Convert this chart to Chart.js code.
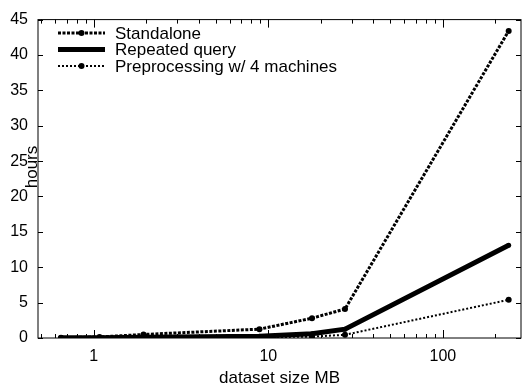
<!DOCTYPE html>
<html>
<head>
<meta charset="utf-8">
<script src="https://cdn.jsdelivr.net/npm/chart.js@4.4.0/dist/chart.umd.min.js"></script>
<style>
  html, body { margin: 0; padding: 0; background: #fff; }
  #wrap { width: 526px; height: 389px; }
</style>
</head>
<body>
<div id="wrap"><canvas id="grafico"></canvas></div>
<script>
const tamanhos = [0.65, 1.08, 1.93, 8.9, 17.8, 27.5, 238];
const standalone = [0.05, 0.15, 0.5, 1.25, 2.8, 4.1, 43.4];
const repetida = [0.02, 0.05, 0.1, 0.25, 0.6, 1.25, 13.1];
const preproc = [0.01, 0.02, 0.05, 0.1, 0.2, 0.45, 5.4];
const nomes = ['Standalone', 'Repeated query', 'Preprocessing w/ 4 machines'];
const ticksX = [1, 10, 100];
const ticksY = [0, 5, 10, 15, 20, 25, 30, 35, 40, 45];

const familia = '"Liberation Sans", Arial, sans-serif';
const fonte = '17px ' + familia;

const pontos = (ys) => tamanhos.map((x, i) => ({ x: x, y: ys[i] }));

const estilos = [
    { dash: [3, 1.5], largura: 3, raio: 3 },
    { dash: [], largura: 5, raio: 2.5 },
    { dash: [2, 2], largura: 2, raio: 3 }
];

const extras = {
    id: 'extras',
    afterDraw(chart) {
        const ctx = chart.ctx;
        const area = chart.chartArea;
        const sx = chart.scales.x;
        const sy = chart.scales.y;
        ctx.save();
        ctx.strokeStyle = '#000';
        ctx.lineWidth = 1;
        // borda completa
        ctx.strokeRect(area.left, area.top, area.right - area.left, area.bottom - area.top);
        ctx.beginPath();
        ticksY.forEach((v) => {
            const py = Math.round(sy.getPixelForValue(v)) + 0.5;
            ctx.moveTo(area.left, py); ctx.lineTo(area.left + 5, py);
            ctx.moveTo(area.right, py); ctx.lineTo(area.right - 5, py);
        });
        for (let dec = 0.1; dec < 1000; dec *= 10) {
            for (let m = 1; m < 10; m++) {
                const v = dec * m;
                if (v < sx.min || v > sx.max) continue;
                const px = Math.round(sx.getPixelForValue(v)) + 0.5;
                const len = m === 1 ? 8 : 4;
                ctx.moveTo(px, area.bottom); ctx.lineTo(px, area.bottom - len);
                ctx.moveTo(px, area.top); ctx.lineTo(px, area.top + len);
            }
        }
        ctx.stroke();

        // titulos dos eixos
        ctx.fillStyle = '#000';
        ctx.font = fonte;
        ctx.textAlign = 'center';
        ctx.textBaseline = 'middle';
        ctx.fillText('dataset size MB', (area.left + area.right) / 2, 378);
        ctx.save();
        ctx.translate(32, 167);
        ctx.rotate(-Math.PI / 2);
        ctx.fillText('hours', 0, 0);
        ctx.restore();

        // legenda
        ctx.textAlign = 'left';
        nomes.forEach((nome, i) => {
            const y = 33 + i * 16.5;
            const e = estilos[i];
            ctx.beginPath();
            ctx.setLineDash(e.dash);
            ctx.lineWidth = e.largura;
            ctx.moveTo(58, y);
            ctx.lineTo(105, y);
            ctx.stroke();
            ctx.setLineDash([]);
            ctx.beginPath();
            ctx.arc(81.5, y, e.raio, 0, Math.PI * 2);
            ctx.fill();
            ctx.fillText(nome, 115, y + 1);
        });
        ctx.restore();
    }
};

const series = [standalone, repetida, preproc];

new Chart(document.getElementById('grafico'), {
    type: 'line',
    data: {
        datasets: series.map((ys, i) => ({
            label: nomes[i],
            data: pontos(ys),
            borderColor: '#000',
            backgroundColor: '#000',
            borderWidth: estilos[i].largura,
            borderDash: estilos[i].dash,
            pointRadius: estilos[i].raio,
            pointBorderWidth: 0,
            pointBackgroundColor: '#000',
            tension: 0,
            fill: false
        }))
    },
    options: {
        responsive: true,
        maintainAspectRatio: false,
        animation: false,
        layout: { padding: { top: 18, right: 5, left: 0, bottom: 0 } },
        plugins: { legend: { display: false }, tooltip: { enabled: false } },
        scales: {
            x: {
                type: 'logarithmic',
                min: 0.48,
                max: 280,
                afterBuildTicks: (s) => { s.ticks = ticksX.map((v) => ({ value: v })); },
                afterFit: (s) => { s.height = 51; },
                grid: { display: false, drawTicks: false },
                border: { display: false },
                ticks: {
                    color: '#000',
                    font: { family: familia, size: 16 },
                    padding: 9,
                    maxRotation: 0,
                    callback: (v) => String(v)
                }
            },
            y: {
                min: 0,
                max: 45,
                afterBuildTicks: (s) => { s.ticks = ticksY.map((v) => ({ value: v })); },
                afterFit: (s) => { s.width = 38; },
                grid: { display: false, drawTicks: false },
                border: { display: false },
                ticks: {
                    color: '#000',
                    font: { family: familia, size: 16 },
                    padding: 10
                }
            }
        }
    },
    plugins: [extras]
});
</script>
</body>
</html>
